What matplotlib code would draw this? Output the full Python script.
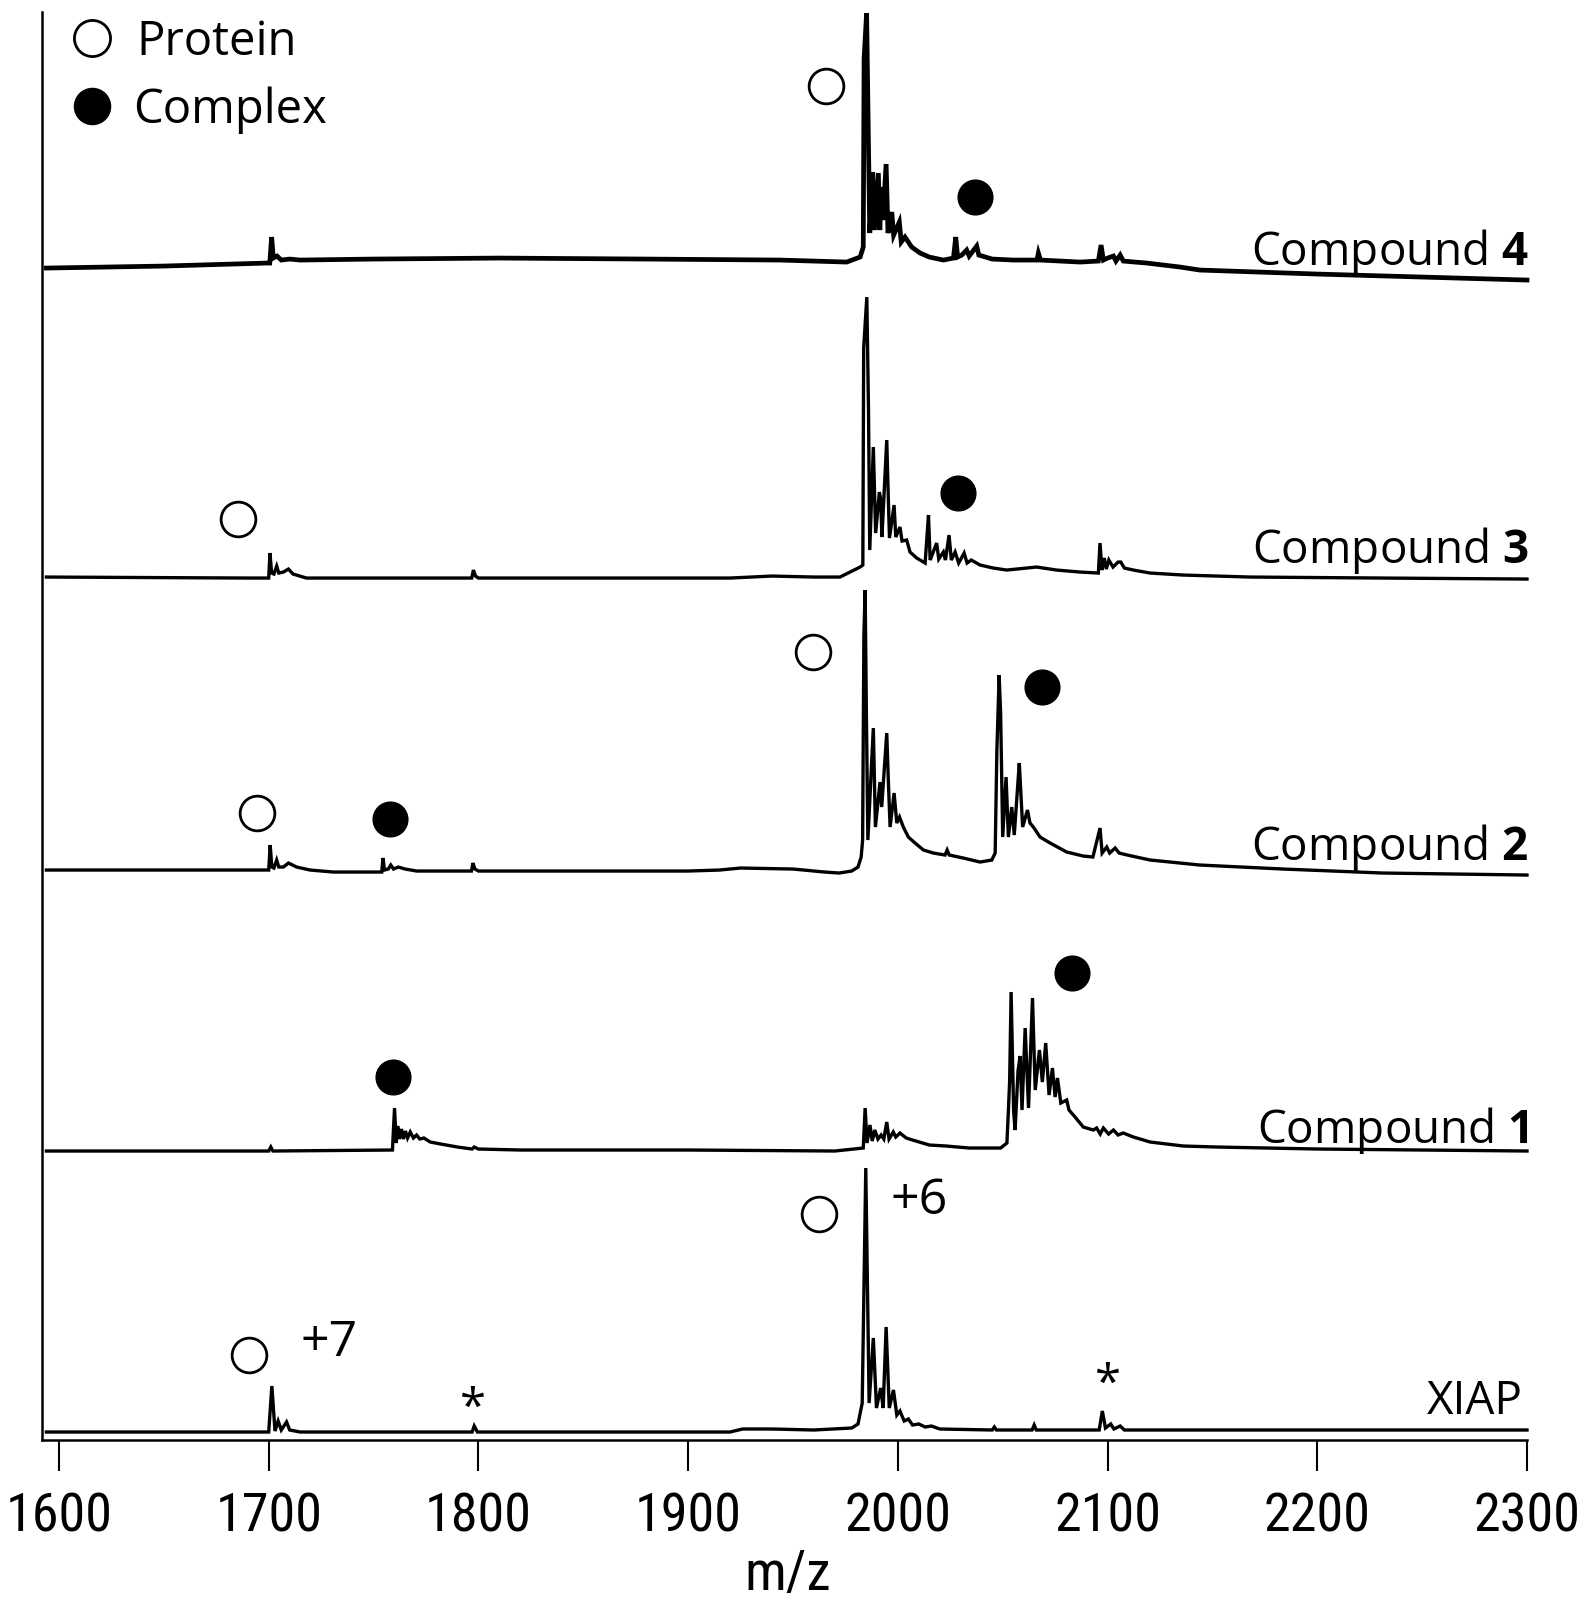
import matplotlib
matplotlib.use("Agg")
import matplotlib.pyplot as plt
from matplotlib import font_manager

plt.rcParams['font.family'] = ['Open Sans', 'DejaVu Sans']
plt.rcParams['mathtext.fontset'] = 'custom'
plt.rcParams['mathtext.rm'] = 'Open Sans'
plt.rcParams['mathtext.bf'] = 'Open Sans:bold'

# --- spectra (m/z, intensity above each trace's own baseline)
xiap_mz = [1594, 1650, 1700, 1701.5, 1703, 1704.5, 1706, 1708.5, 1710, 1715, 1797, 1798, 1799.5,
           1920, 1926, 1940, 1960, 1978, 1981, 1983, 1984.7, 1986.3, 1988.3, 1989.8, 1991.8, 1993,
           1994.4, 1995.9, 1997.9, 1999.5, 2001, 2003, 2005, 2007, 2010, 2013, 2016, 2020, 2045,
           2046, 2047, 2064, 2065, 2066, 2096, 2097.5, 2099, 2101.5, 2103, 2106, 2108, 2150, 2300]
xiap_int = [1, 1, 1, 47, 2, 12, 3, 11, 3, 1, 1, 7, 1,
            1, 4, 4, 3, 5, 9, 30, 265, 30, 95, 25, 45, 25,
            106, 25, 43, 18, 22, 12, 14, 8, 9, 6, 7, 4, 3,
            6, 3, 3, 8, 3, 3, 22, 5, 9, 4, 7, 3, 3, 3]

c1_mz = [1594, 1700, 1701, 1702, 1759, 1760, 1760.8, 1761.5, 1762.3, 1763.3, 1764.2, 1765.2, 1766.2,
         1767.5, 1769, 1770.5, 1772, 1774, 1777, 1782, 1790, 1797, 1798, 1800, 1820, 1900, 1970,
         1983.5, 1984.4, 1985.3, 1986.7, 1987.8, 1989, 1990.5, 1992, 1993.3, 1994.7, 1995.8, 1997.8,
         1999, 2001, 2004, 2007, 2015, 2023, 2034, 2049, 2052, 2052.7, 2053.3, 2054.0, 2055.2,
         2055.9, 2057.3, 2058.3, 2059.2, 2060.7, 2062.3, 2064.2, 2065.5, 2067.5, 2068.9, 2070.5,
         2072.1, 2073.7, 2075, 2076.1, 2077.7, 2080.5, 2081.6, 2084.5, 2088.4, 2093.2, 2094.8,
         2096.5, 2098, 2100.5, 2102.8, 2105, 2107.5, 2112.3, 2120.3, 2136.1, 2152, 2200, 2300]
c1_int = [0, 0, 4, 0, 1, 43, 8, 25, 12, 22, 12, 20, 13,
          19, 13, 16, 12, 13, 9, 7, 4, 2, 4, 2, 1, 1, 0,
          3, 43, 8, 26, 10, 21, 12, 16, 12, 29, 12, 19,
          14, 18, 13, 11, 6, 5, 3, 3, 8, 40, 70, 159, 40,
          21, 80, 95, 41, 123, 43, 153, 61, 101, 69, 108,
          56, 83, 54, 73, 48, 51, 41, 34, 24, 21, 23,
          17, 23, 17, 21, 16, 18, 14, 9, 5, 4, 2, 0]

c2_mz = [1594, 1650, 1700, 1700.7, 1701.5, 1702.5, 1703.8, 1704.8, 1707, 1709.4, 1713.3, 1719.7,
         1730.8, 1753.9, 1754.5, 1755.2, 1757, 1758.2, 1759.5, 1761.8, 1765, 1770.6, 1796.7,
         1797.4, 1798.3, 1800, 1900, 1915, 1925, 1950, 1965, 1972, 1978, 1981, 1982.5, 1983.2,
         1983.8, 1984.4, 1985, 1985.7, 1988.3, 1989.3, 1991.5, 1992.3, 1994.7, 1995.5, 1996.3,
         1998.2, 1999.5, 2000.8, 2002.6, 2005, 2008.2, 2012.2, 2016.9, 2022.5, 2023.5, 2024.5,
         2031.2, 2039.2, 2044.8, 2046.4, 2047.2, 2048.3, 2049, 2050, 2051.6, 2052.7, 2054.3,
         2055.5, 2057.9, 2058.5, 2059.5, 2061.8, 2063, 2064.6, 2067.8, 2072.6, 2080.5, 2088.4,
         2093, 2096.4, 2097.4, 2099.6, 2101, 2103.6, 2105.5, 2109.4, 2120.3, 2144, 2183.7,
         2231, 2300]
c2_int = [5, 5, 5, 30, 8, 7, 15, 8, 8, 12, 8, 5,
          3, 3, 17, 5, 6, 10, 6, 8, 6, 4, 4,
          12, 6, 4, 4, 5, 7, 6, 3, 2, 4, 8, 18, 35,
          240, 285, 160, 35, 147, 48, 93, 68, 142, 92, 48,
          82, 52, 58, 48, 38, 32, 25, 22, 20, 25, 20,
          17, 13, 15, 22, 123, 200, 162, 38, 98, 38, 68,
          40, 112, 88, 48, 65, 52, 48, 38, 32, 23, 19,
          18, 47, 22, 28, 22, 27, 22, 20, 15, 10, 6,
          2, 0]

c3_mz = [1594, 1690, 1700, 1700.6, 1701.4, 1702.5, 1703.8, 1704.8, 1707, 1709.4, 1711.6, 1718,
         1796.8, 1797.6, 1798.6, 1800, 1920, 1940, 1960, 1972.4, 1982, 1983.3, 1983.7, 1985.2,
         1986, 1986.6, 1988.3, 1989.4, 1991.2, 1991.8, 1992.4, 1994.7, 1995.3, 1996, 1998.2,
         1999, 2001, 2002, 2004.2, 2005.8, 2009, 2013, 2014.2, 2014.6, 2015.4, 2016.5, 2018.5,
         2019.5, 2021.7, 2022.7, 2024.4, 2025.5, 2027.3, 2029, 2031.6, 2033, 2035, 2039.2,
         2045.5, 2051.9, 2066.2, 2075.7, 2086.9, 2095.6, 2096.4, 2097.3, 2098.4, 2099.4, 2100.6,
         2102.6, 2105, 2106.3, 2108, 2112.3, 2120.3, 2136, 2168, 2231, 2300]
c3_int = [2, 1, 1, 26, 6, 5, 13, 6, 7, 10, 5, 1,
          1, 9, 3, 1, 1, 3, 2, 2, 12, 14, 231, 282,
          169, 29, 132, 46, 87, 80, 42, 139, 92, 41, 74,
          42, 52, 38, 39, 27, 21, 16, 52, 64, 19, 25, 36,
          20, 27, 19, 44, 19, 27, 16, 26, 16, 19, 14,
          11, 9, 12, 9, 7, 6, 36, 9, 21, 10, 19,
          12, 17, 17, 11, 9, 6, 4, 2, 1, 0]

c4_mz = [1594, 1650, 1699, 1700.5, 1701.4, 1702.2, 1704, 1706, 1710, 1715, 1750, 1810, 1880,
         1943.8, 1975.6, 1982, 1983.5, 1983.9, 1985.1, 1985.9, 1986.6, 1988, 1988.8, 1990.7,
         1991.4, 1992, 1992.8, 1994.4, 1995.3, 1997.1, 1998, 2000.7, 2001.6, 2003.4, 2006.6,
         2010.6, 2015, 2021.7, 2026.5, 2027.6, 2028.5, 2030.5, 2032.8, 2034, 2037.6, 2038.6,
         2045, 2055.1, 2066.3, 2067, 2068, 2086.9, 2095.6, 2096.9, 2098, 2100, 2102.8, 2104,
         2106, 2107.5, 2118.7, 2134.6, 2144, 2200, 2250, 2300]
c4_int = [12, 14, 17, 17, 43, 22, 24, 20, 21, 20, 21, 22, 21,
          20, 18, 23, 33, 222, 267, 148, 47, 108, 50, 107,
          50, 93, 60, 116, 47, 68, 45, 58, 38, 43, 33,
          27, 23, 20, 22, 43, 23, 25, 30, 24, 34, 25,
          21, 20, 20, 27, 20, 18, 19, 35, 20, 22, 24, 19,
          25, 19, 17, 13, 10, 6, 3, 0]

traces = [xiap_mz, c1_mz, c2_mz, c3_mz, c4_mz]
intens = [xiap_int, c1_int, c2_int, c3_int, c4_int]
offsets = [7, 289, 565, 861, 1160]
widths = [2.4, 2.4, 2.4, 2.4, 3.4]
labels = ['XIAP', r'Compound $\mathbf{1}$', r'Compound $\mathbf{2}$',
          r'Compound $\mathbf{3}$', r'Compound $\mathbf{4}$']
label_y = [26, 297, 580, 877, 1175]

# circle markers: (m/z, height) open = protein, filled = complex
protein_mz = [1690.7, 1962.5, 1694.6, 1959.6, 1685.5, 1965.8]
protein_y = [85, 226, 627, 788, 921, 1354]
complex_mz = [1759.4, 2083.0, 1757.8, 2068.6, 2028.9, 2036.8]
complex_y = [363, 467, 621, 753, 947, 1243]

ticks = [1600, 1700, 1800, 1900, 2000, 2100, 2200, 2300]

# narrow face for the axis numbers if one is installed
installed = {f.name for f in font_manager.fontManager.ttflist}
narrow = None
for name in ['Liberation Sans Narrow', 'DejaVu Sans Condensed', 'Roboto Condensed',
             'Open Sans Condensed', 'Noto Sans Condensed']:
    if name in installed:
        narrow = name
        break
if narrow:
    tick_font, tick_size = [narrow, 'Open Sans'], 39
else:
    tick_font, tick_size = ['Open Sans'], 33

fig = plt.figure(figsize=(15.84, 16.01), dpi=100)
ax = fig.add_axes([0.02652, 0.10056, 0.9375, 0.8919])

for mz, it, off, lw in zip(traces, intens, offsets, widths):
    ax.plot(mz, [v + off for v in it], color='black', lw=lw, solid_joinstyle='miter',
            clip_on=False)

ax.plot(protein_mz, protein_y, 'o', ms=25, mfc='white', mec='black', mew=2, clip_on=False)
ax.plot(complex_mz, complex_y, 'o', ms=25, mfc='black', mec='black', clip_on=False)

for lab, yy in zip(labels, label_y):
    x = 2298 if lab == 'XIAP' else 2301
    ax.text(x, yy, lab, ha='right', va='baseline', fontsize=33)

# peak annotations
ax.text(1728.7, 84, '+7', ha='center', va='baseline', fontsize=36)
ax.text(2010.2, 226, '+6', ha='center', va='baseline', fontsize=36)
ax.text(1797.4, 18, '*', ha='center', va='baseline', fontsize=34)
ax.text(2100.3, 42, '*', ha='center', va='baseline', fontsize=34)

# legend drawn by hand
ax.plot([1615.7], [1402], 'o', ms=26, mfc='white', mec='black', mew=2, clip_on=False)
ax.plot([1615.7], [1334], 'o', ms=26, mfc='black', mec='black', clip_on=False)
ax.text(1636.7, 1385, 'Protein', ha='left', va='baseline', fontsize=34)
ax.text(1635.3, 1317, 'Complex', ha='left', va='baseline', fontsize=34)

ax.set_xlim(1591.9, 2300)
ax.set_ylim(0, 1428)
for s in ['top', 'right']:
    ax.spines[s].set_visible(False)
ax.spines['left'].set_linewidth(1.8)
ax.spines['bottom'].set_linewidth(1.8)
ax.set_yticks([])
ax.set_xticks(ticks)
ax.set_xticklabels([str(t) for t in ticks], family=tick_font, fontsize=tick_size)
ax.tick_params(axis='x', direction='out', length=22, width=1.5, pad=15)

fig.text(0.4975, 0.0165, 'm/z', ha='center', va='center', fontsize=40, family=tick_font)

fig.savefig('out.png', dpi=100)
